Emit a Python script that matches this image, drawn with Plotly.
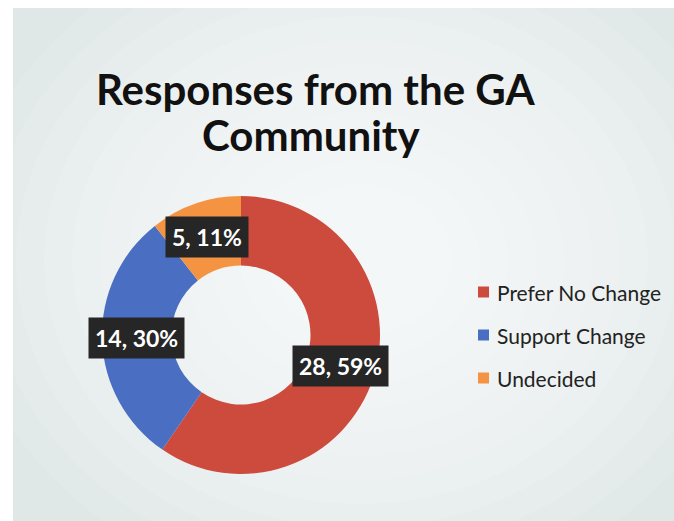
import math
import plotly.graph_objects as go

categories = ["Prefer No Change", "Support Change", "Undecided"]
counts = [28, 14, 5]
pct_labels = ["59%", "30%", "11%"]
colors = ["#cd4b3d", "#4a6ec2", "#f49442"]
title_lines = ["Responses from the GA", "Community"]

W, H = 674, 521
cx, cy, R = 241, 335, 139   # pixel centre / outer radius of donut
hole = 0.5

def px(x):
    return x / W

def py(y):
    return 1 - y / H

fig = go.Figure()
fig.add_trace(go.Pie(
    labels=categories, values=counts, hole=hole, sort=False,
    direction="clockwise", rotation=0,
    marker=dict(colors=colors, line=dict(width=0)),
    textinfo="none", hoverinfo="label+value+percent", showlegend=False,
    domain=dict(x=[px(cx - R), px(cx + R)], y=[py(cy + R), py(cy - R)]),
))

# slide background with a soft radial lightening
shapes = [dict(type="rect", xref="paper", yref="paper", x0=px(13), x1=1, y0=0, y1=py(8),
               fillcolor="#dfe7e7", line=dict(width=0), layer="below")]
ccx, ccy = 360, 260
for k in range(12):
    rx = 400 - k * 28
    ry = 340 - k * 24
    shapes.append(dict(type="circle", xref="paper", yref="paper",
                       x0=px(ccx - rx), x1=px(ccx + rx), y0=py(ccy + ry), y1=py(ccy - ry),
                       fillcolor="white", opacity=0.11, line=dict(width=0), layer="below"))
annotations = []

# title
for line, (tx, ty) in zip(title_lines, [(315, 89), (311, 135)]):
    annotations.append(dict(x=px(tx), y=py(ty), xref="paper", yref="paper", showarrow=False,
                            text=f"<b>{line}</b>", xanchor="center", yanchor="middle",
                            font=dict(family="Lato", size=42, color="#111111")))

# data labels at the middle of each ring slice
total = sum(counts)
cum = 0
rmid = R * (1 + hole) / 2
for c, v, p in zip(categories, counts, pct_labels):
    mid = (cum + v / 2) / total * 2 * math.pi
    cum += v
    lx = cx + rmid * math.sin(mid)
    ly = cy - rmid * math.cos(mid)
    annotations.append(dict(
        x=px(lx), y=py(ly), xref="paper", yref="paper", showarrow=False,
        text=f"<b>{v}, {p}</b>", font=dict(family="Lato", size=23, color="white"),
        bgcolor="#262626", borderpad=6, xanchor="center", yanchor="middle"))

# legend
leg_y0, leg_dy = 292, 43
for i, (c, col) in enumerate(zip(categories, colors)):
    y = leg_y0 + i * leg_dy
    shapes.append(dict(type="rect", xref="paper", yref="paper",
                       x0=px(478), x1=px(489), y0=py(y + 5.5), y1=py(y - 5.5),
                       fillcolor=col, line=dict(width=0)))
    annotations.append(dict(x=px(495), y=py(y), xref="paper", yref="paper", showarrow=False,
                            text=c, xanchor="left", yanchor="middle",
                            font=dict(family="Lato", size=21, color="#222222")))

fig.update_layout(
    width=W, height=H, margin=dict(l=0, r=0, t=0, b=0),
    paper_bgcolor="white", plot_bgcolor="white",
    shapes=shapes, annotations=annotations,
)

fig.write_html("out.html")
